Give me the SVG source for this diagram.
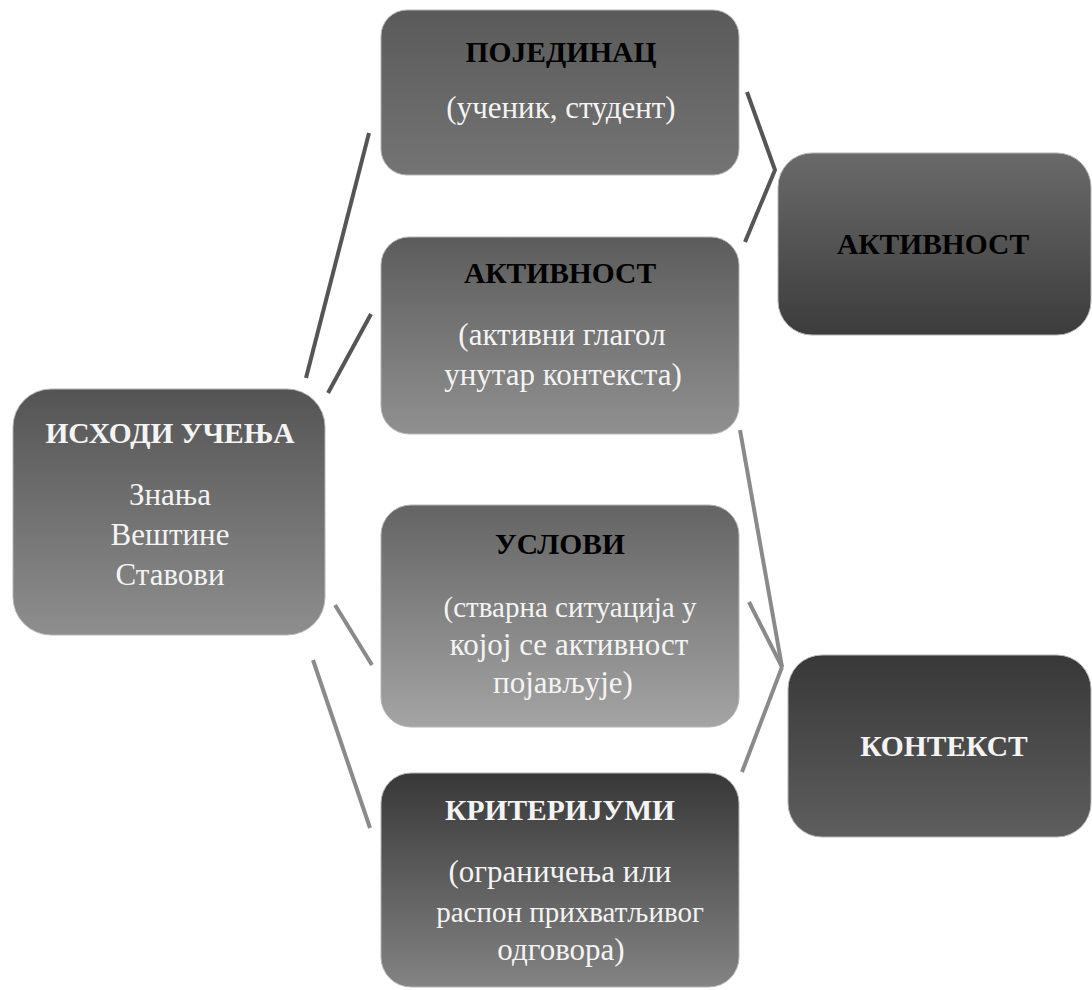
<svg xmlns="http://www.w3.org/2000/svg" width="1092" height="990" viewBox="0 0 1092 990">
<defs>
<linearGradient id="gIsh" x1="0" y1="0" x2="0" y2="1"><stop offset="0" stop-color="#545454"/><stop offset="1" stop-color="#8e8e8e"/></linearGradient>
<linearGradient id="gPoj" x1="0" y1="0" x2="0" y2="1"><stop offset="0" stop-color="#5a5a5a"/><stop offset="1" stop-color="#747474"/></linearGradient>
<linearGradient id="gAkt" x1="0" y1="0" x2="0" y2="1"><stop offset="0" stop-color="#5c5c5c"/><stop offset="1" stop-color="#909090"/></linearGradient>
<linearGradient id="gUsl" x1="0" y1="0" x2="0" y2="1"><stop offset="0" stop-color="#646464"/><stop offset="1" stop-color="#a4a4a4"/></linearGradient>
<linearGradient id="gKri" x1="0" y1="0" x2="0" y2="1"><stop offset="0" stop-color="#383838"/><stop offset="1" stop-color="#838383"/></linearGradient>
<linearGradient id="gAktR" x1="0" y1="0" x2="0" y2="1"><stop offset="0" stop-color="#6a6a6a"/><stop offset="1" stop-color="#3c3c3c"/></linearGradient>
<linearGradient id="gKon" x1="0" y1="0" x2="0" y2="1"><stop offset="0" stop-color="#383838"/><stop offset="1" stop-color="#5e5e5e"/></linearGradient>
</defs>
<style>
.box{stroke:#b5b5b5;stroke-width:1}
.t{font-family:"Liberation Serif","DejaVu Serif",serif;font-size:31px;text-anchor:middle}
.h{font-weight:bold;font-size:29.5px}
.s{font-size:29px}
.blk{fill:#000}
.wht{fill:#f4f4f4}
.c1{stroke:#555;stroke-width:4;fill:none;stroke-linecap:butt;stroke-linejoin:miter}
.c2{stroke:#8a8a8a;stroke-width:4;fill:none;stroke-linecap:butt;stroke-linejoin:miter}
</style>
<rect width="1092" height="990" fill="#fff"/>
<g id="connectors">
<line class="c1" x1="306" y1="378" x2="369" y2="133"/>
<line class="c1" x1="328" y1="393" x2="371" y2="314"/>
<polyline class="c1" points="747,92 775,170 745,242"/>
<line class="c2" x1="335" y1="605" x2="372" y2="665"/>
<line class="c2" x1="313" y1="660" x2="370" y2="828"/>
<line class="c2" x1="740" y1="430" x2="782" y2="667"/>
<line class="c2" x1="749" y1="602" x2="782" y2="667"/>
<line class="c2" x1="782" y1="667" x2="742" y2="772"/>
</g>
<g id="ishodi">
<rect class="box" x="13" y="389" width="312" height="246" rx="38" fill="url(#gIsh)"/>
<text class="t h wht" x="170" y="443">ИСХОДИ УЧЕЊА</text>
<text class="t wht" x="170" y="505">Знања</text>
<text class="t wht" x="170" y="545">Вештине</text>
<text class="t wht" x="170" y="585">Ставови</text>
</g>
<g id="pojedinac">
<rect class="box" x="381" y="10" width="358" height="165" rx="26" fill="url(#gPoj)"/>
<text class="t h blk" x="561" y="62">ПОЈЕДИНАЦ</text>
<text class="t wht" x="561" y="118">(ученик, студент)</text>
</g>
<g id="aktivnost">
<rect class="box" x="381" y="237" width="358" height="197" rx="28" fill="url(#gAkt)"/>
<text class="t h blk" x="560" y="283">АКТИВНОСТ</text>
<text class="t wht" x="562" y="345">(активни глагол</text>
<text class="t wht" x="563" y="385">унутар контекста)</text>
</g>
<g id="uslovi">
<rect class="box" x="381" y="505" width="358" height="222" rx="30" fill="url(#gUsl)"/>
<text class="t h blk" x="560" y="554">УСЛОВИ</text>
<text class="t s wht" x="570" y="617">(стварна ситуација у</text>
<text class="t wht" x="569" y="655">којој се активност</text>
<text class="t wht" x="563" y="693">појављује)</text>
</g>
<g id="kriterijumi">
<rect class="box" x="381" y="773" width="358" height="214" rx="30" fill="url(#gKri)"/>
<text class="t h wht" x="560" y="820">КРИТЕРИЈУМИ</text>
<text class="t wht" x="560" y="882">(ограничења или</text>
<text class="t s wht" x="570" y="922">распон прихватљивог</text>
<text class="t wht" x="561" y="960">одговора)</text>
</g>
<g id="aktivnost-r">
<rect class="box" x="778" y="153" width="313" height="182" rx="34" fill="url(#gAktR)"/>
<text class="t h blk" x="933" y="254">АКТИВНОСТ</text>
</g>
<g id="kontekst">
<rect class="box" x="788" y="655" width="303" height="182" rx="34" fill="url(#gKon)"/>
<text class="t h wht" x="944" y="756">КОНТЕКСТ</text>
</g>
</svg>
